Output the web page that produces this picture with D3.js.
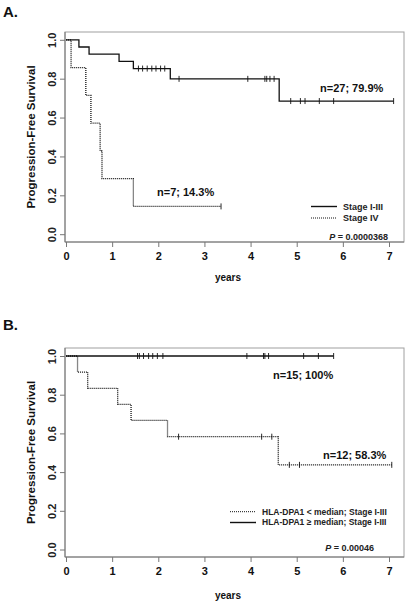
<!DOCTYPE html>
<html><head><meta charset="utf-8">
<script src="https://cdn.jsdelivr.net/npm/d3@7"></script>
<style>
body{margin:0;background:#fff;}
svg{display:block;font-family:"Liberation Sans",Arial,sans-serif;}
</style></head>
<body><svg id="c" width="410" height="601"></svg>
<script>
// ---------- DATA ----------
const xTicks = [0,1,2,3,4,5,6,7];
const yTicks = [0,0.2,0.4,0.6,0.8,1.0];

// Panel A
const stageI_III_times = [0, 0.28, 0.50, 1.15, 1.46, 2.26, 4.62];
const stageI_III_surv  = [1, 0.963, 0.926, 0.889, 0.852, 0.799, 0.685];
const stageI_III_end   = 7.10;
const stageI_III_censor = [1.57,1.66,1.76,1.86,1.95,2.05,2.14,2.45,3.94,4.31,4.35,4.42,4.51,4.87,5.08,5.18,5.49,5.80,7.10];

const stageIV_times = [0, 0.11, 0.43, 0.54, 0.74, 0.78, 1.46];
const stageIV_surv  = [1, 0.857, 0.714, 0.571, 0.429, 0.286, 0.143];
const stageIV_end   = 3.36;
const stageIV_censor = [3.36];

// Panel B
const low_times = [0, 0.25, 0.47, 1.12, 1.41, 2.20, 4.60];
const low_surv  = [1, 0.917, 0.833, 0.750, 0.667, 0.583, 0.4375];
const low_end   = 7.06;
const low_censor = [2.44, 4.24, 4.46, 4.84, 5.06, 7.06];

const high_times = [0];
const high_surv  = [1];
const high_end   = 5.80;
const high_censor = [1.55,1.59,1.68,1.79,1.88,1.98,2.10,3.92,4.28,4.31,4.39,5.15,5.47,5.80];

// ---------- DRAW ----------
const svg = d3.select("#c");
const FONT = '"Liberation Sans",Arial,sans-serif';

function panel(cfg){
  const g = svg.append("g");
  const x = d3.scaleLinear().domain([0,7]).range([66,389]);
  const y = d3.scaleLinear().domain([0,1]).range([cfg.y0, cfg.y1]);
  const left=65, right=404, top=cfg.top, bottom=cfg.bottom;

  // letter
  g.append("text").attr("x",3).attr("y",cfg.letterY).attr("font-size",15).attr("font-weight","bold")
    .attr("fill","#111").text(cfg.letter);

  // box
  g.append("rect").attr("x",left).attr("y",top).attr("width",right-left).attr("height",bottom-top)
    .attr("fill","none").attr("stroke","#a0a0a0").attr("stroke-width",1);
  g.append("line").attr("x1",left).attr("x2",left).attr("y1",top).attr("y2",bottom).attr("stroke","#777");
  g.append("line").attr("x1",left).attr("x2",right).attr("y1",bottom).attr("y2",bottom).attr("stroke","#777");

  // x axis
  const xa = g.append("g").attr("transform",`translate(0,${bottom})`)
    .call(d3.axisBottom(x).tickValues(xTicks).tickFormat(d3.format("d")).tickSize(5).tickPadding(5));
  xa.select(".domain").remove();
  xa.selectAll("line").attr("stroke","#777");
  xa.selectAll("text").attr("font-size",11).attr("font-weight","bold").attr("fill","#111").attr("font-family",FONT);

  // y axis
  const ya = g.append("g").attr("transform",`translate(${left},0)`)
    .call(d3.axisLeft(y).tickValues(yTicks).tickFormat(d3.format(".1f")).tickSize(5));
  ya.select(".domain").remove();
  ya.selectAll("line").attr("stroke","#777");
  ya.selectAll("text").attr("font-size",11).attr("font-weight","bold").attr("fill","#222").attr("font-family",FONT)
    .attr("transform","rotate(-90)").attr("text-anchor","middle").attr("x",0).attr("y",-13).attr("dy","0.35em");

  // axis titles
  g.append("text").attr("transform",`translate(31,${(top+bottom)/2}) rotate(-90)`).attr("text-anchor","middle")
    .attr("dy","0.35em").attr("font-size",11.5).attr("font-weight","bold").attr("fill","#111").text("Progression-Free Survival");
  g.append("text").attr("x",228).attr("y",cfg.yearsY).attr("text-anchor","middle").attr("dy","0.35em")
    .attr("font-size",10).attr("font-weight","bold").attr("fill","#111").text("years");

  // curves
  const line = d3.line().x(d=>x(d[0])).y(d=>y(d[1])).curve(d3.curveStepAfter);
  cfg.curves.forEach(c=>{
    const pts = c.times.map((t,i)=>[t,c.surv[i]]);
    pts.push([c.end, c.surv[c.surv.length-1]]);
    g.append("path").attr("d",line(pts)).attr("fill","none").attr("stroke","#111")
      .attr("stroke-width",1.3).attr("stroke-dasharray",c.dash?"1,1":null);
    const survAt = t => { let s=1; c.times.forEach((tt,i)=>{ if(tt<=t) s=c.surv[i]; }); return s; };
    g.selectAll(null).data(c.censor).enter().append("line")
      .attr("x1",d=>x(d)).attr("x2",d=>x(d))
      .attr("y1",d=>y(survAt(d))-3).attr("y2",d=>y(survAt(d))+3)
      .attr("stroke","#111").attr("stroke-width",0.9);
  });

  // annotations
  cfg.notes.forEach(n=>{
    g.append("text").attr("x",n[0]).attr("y",n[1]).attr("dy","0.35em").attr("font-size",11)
      .attr("font-weight","bold").attr("fill","#111").text(n[2]);
  });

  // legend
  cfg.legend.forEach((l,i)=>{
    const ly = cfg.legY + i*cfg.legGap;
    g.append("line").attr("x1",cfg.legX).attr("x2",cfg.legX+26).attr("y1",ly).attr("y2",ly)
      .attr("stroke","#111").attr("stroke-width",l.dash?1:1.4).attr("stroke-dasharray",l.dash?"1,1":null);
    g.append("text").attr("x",cfg.legX+32).attr("y",ly).attr("dy","0.35em").attr("font-size",cfg.legFont)
      .attr("font-weight","bold").attr("fill","#222").text(l.label);
  });

  // p value
  const pt = g.append("text").attr("x",cfg.pX).attr("y",cfg.pY).attr("dy","0.35em").attr("text-anchor","end")
    .attr("font-size",9).attr("font-weight","bold").attr("fill","#222");
  pt.append("tspan").attr("font-style","italic").text("P");
  pt.append("tspan").text(" = " + cfg.p);
}

panel({
  letter:"A.", letterY:17, top:32, bottom:242, y0:234.2, y1:39.8, yearsY:277,
  curves:[
    {times:stageI_III_times, surv:stageI_III_surv, end:stageI_III_end, censor:stageI_III_censor, dash:false},
    {times:stageIV_times, surv:stageIV_surv, end:stageIV_end, censor:stageIV_censor, dash:true}
  ],
  notes:[[320,88,"n=27; 79.9%"],[157,192,"n=7; 14.3%"]],
  legend:[{label:"Stage I-III",dash:false},{label:"Stage IV",dash:true}],
  legX:311, legY:206.5, legGap:11.5, legFont:9,
  pX:388, pY:236.5, p:"0.0000368"
});

panel({
  letter:"B.", letterY:330, top:348, bottom:557, y0:549.5, y1:356, yearsY:595,
  curves:[
    {times:low_times, surv:low_surv, end:low_end, censor:low_censor, dash:true},
    {times:high_times, surv:high_surv, end:high_end, censor:high_censor, dash:false}
  ],
  notes:[[273,375,"n=15; 100%"],[323,455,"n=12; 58.3%"]],
  legend:[{label:"HLA-DPA1 < median; Stage I-III",dash:true},{label:"HLA-DPA1 \u2265 median; Stage I-III",dash:false}],
  legX:230, legY:511.7, legGap:10.8, legFont:8.5,
  pX:374, pY:548, p:"0.00046"
});
</script></body></html>
